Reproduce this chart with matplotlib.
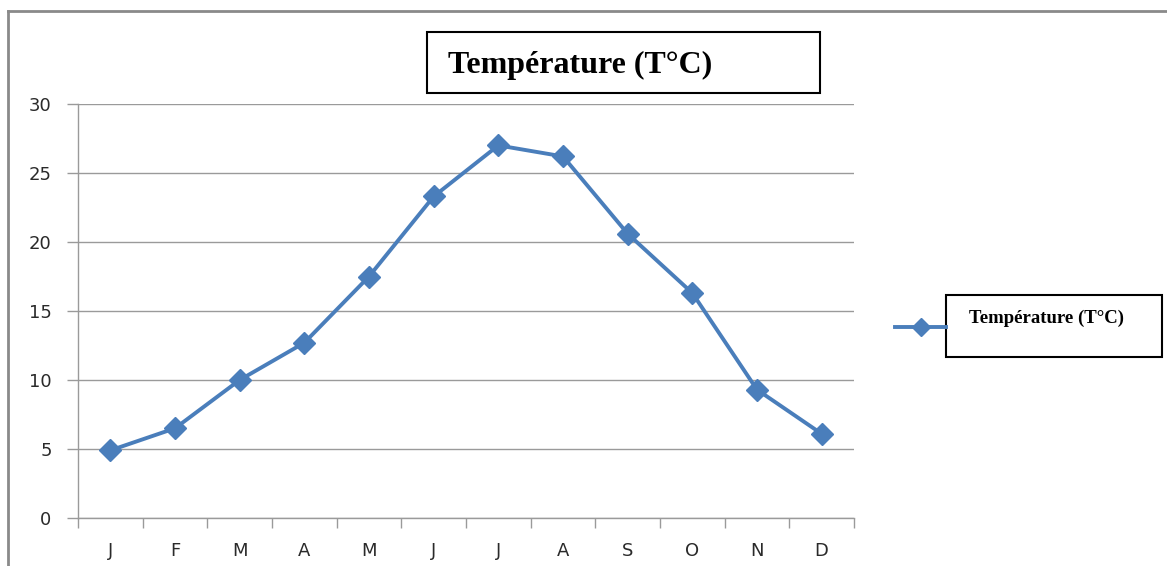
import matplotlib.pyplot as plt
from matplotlib.lines import Line2D
from matplotlib.patches import Rectangle

months = ['J', 'F', 'M', 'A', 'M', 'J', 'J', 'A', 'S', 'O', 'N', 'D']
temperature = [4.9, 6.5, 10.0, 12.7, 17.5, 23.3, 27.0, 26.2, 20.6, 16.3, 9.3, 6.1]
series_name = 'Température (T°C)'

blue = '#4a7ebb'
grey = '#9a9a9a'

W, H = 1167, 566
fig = plt.figure(figsize=(W / 100, H / 100), dpi=100)

# plot area in pixel terms
x0, x1, y_top, y_bot = 78, 854, 104, 518
ax = fig.add_axes([x0 / W, 1 - y_bot / H, (x1 - x0) / W, (y_bot - y_top) / H])

x = range(len(months))
ax.plot(x, temperature, color=blue, linewidth=2.8, marker='D', markersize=11,
        markeredgecolor=blue, markerfacecolor=blue, zorder=3)

ax.set_xlim(-0.5, len(months) - 0.5)
ax.set_ylim(0, 30)
ax.set_yticks(range(0, 31, 5))
ax.set_xticks(list(x))
ax.set_xticklabels(months)
ax.set_xticks([i - 0.5 for i in range(len(months) + 1)], minor=True)

ax.grid(axis='y', color=grey, linewidth=1)
ax.set_axisbelow(True)
for side in ('top', 'right'):
    ax.spines[side].set_visible(False)
for side in ('left', 'bottom'):
    ax.spines[side].set_color(grey)
    ax.spines[side].set_linewidth(1)

ax.tick_params(axis='x', which='major', length=0, pad=17)
ax.tick_params(axis='x', which='minor', length=7, color=grey, width=1)
ax.tick_params(axis='y', length=8, color=grey, width=1, pad=11)
for lab in ax.get_xticklabels() + ax.get_yticklabels():
    lab.set_fontfamily('DejaVu Sans')
    lab.set_fontsize(13)
    lab.set_color('#2a2a2a')

# outer chart frame (top and left edges visible)
fig.add_artist(Line2D([8 / W, 8 / W], [0, 1 - 11 / H], transform=fig.transFigure,
                      color='#8a8a8a', linewidth=2))
fig.add_artist(Line2D([8 / W, 1], [1 - 11 / H, 1 - 11 / H], transform=fig.transFigure,
                      color='#8a8a8a', linewidth=2))

# title box
fig.add_artist(Rectangle((427 / W, 1 - 93 / H), (820 - 427) / W, (93 - 32) / H,
                         transform=fig.transFigure, fill=False, edgecolor='black',
                         linewidth=1.5))
fig.text(448 / W, 1 - 73 / H, series_name, fontfamily='Liberation Serif',
         fontweight='bold', fontsize=23, va='baseline', ha='left')

# legend
fig.add_artist(Line2D([895 / W, 946 / W], [1 - 327 / H, 1 - 327 / H],
                      transform=fig.transFigure, color=blue, linewidth=2.8))
fig.add_artist(Line2D([921 / W], [1 - 327 / H], transform=fig.transFigure,
                      color=blue, marker='D', markersize=9, linestyle='none'))
fig.add_artist(Rectangle((946 / W, 1 - 357 / H), (1162 - 946) / W, (357 - 295) / H,
                         transform=fig.transFigure, fill=False, edgecolor='black',
                         linewidth=1.5))
fig.text(969 / W, 1 - 323 / H, series_name, fontfamily='Liberation Serif',
         fontweight='bold', fontsize=13.5, va='baseline', ha='left')

fig.savefig('out.png', dpi=100)
